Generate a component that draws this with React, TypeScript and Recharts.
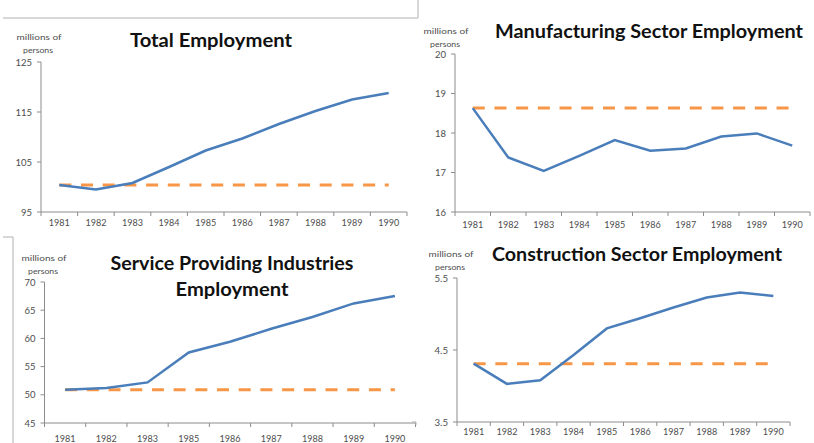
import React from "react";
import { LineChart, Line, XAxis, YAxis, ReferenceLine } from "recharts";

const years = ["1981", "1982", "1983", "1984", "1985", "1986", "1987", "1988", "1989", "1990"];
const serviceYears = ["1981", "1982", "1983", "1985", "1986", "1987", "1988", "1989", "1990"];

const totalEmployment = [100.4, 99.5, 100.8, 104.0, 107.3, 109.7, 112.6, 115.2, 117.5, 118.8];
const manufacturingEmployment = [18.63, 17.38, 17.04, 17.42, 17.82, 17.55, 17.61, 17.91, 17.99, 17.68];
const serviceEmployment = [50.9, 51.2, 52.2, 57.5, 59.4, 61.7, 63.8, 66.2, 67.5];
const constructionEmployment = [4.31, 4.03, 4.08, 4.43, 4.8, 4.94, 5.09, 5.23, 5.3, 5.25];

const totalTicks = [95, 105, 115, 125];
const manufacturingTicks = [16, 17, 18, 19, 20];
const serviceTicks = [45, 50, 55, 60, 65, 70];
const constructionTicks = [3.5, 4.5, 5.5];

const BLUE = "#4a7ebb";
const ORANGE = "#f79646";
const AXIS = "#8c8c8c";
const LABEL = "#4d4d4d";
const FONT = "Lato, 'Open Sans', sans-serif";

const toRows = (cats: string[], vals: number[]) => cats.map((year, i) => ({ year, value: vals[i] }));

const XTick = (props: any) => {
  const { x, y, payload, index, gap } = props;
  const half = payload?.offset || 18;
  const text = String(payload.value);
  return (
    <g>
      {index === 0 && <line x1={x - half} x2={x - half} y1={y} y2={y + 4} stroke={AXIS} />}
      <line x1={x + half} x2={x + half} y1={y} y2={y + 4} stroke={AXIS} />
      <text
        x={x}
        y={y + gap + 3.5}
        textAnchor="middle"
        fontSize={10}
        fill={LABEL}
        fontFamily={FONT}
        textLength={21}
        lengthAdjust="spacingAndGlyphs"
      >
        {text}
      </text>
    </g>
  );
};

const YTick = (props: any) => {
  const { x, y, payload } = props;
  const text = String(payload.value);
  const len = text.replace(".", "").length * 5.5 + (text.includes(".") ? 2.5 : 0);
  return (
    <text
      x={x}
      y={y + 3.5}
      textAnchor="end"
      fontSize={10}
      fill={LABEL}
      fontFamily={FONT}
      textLength={len}
      lengthAdjust="spacingAndGlyphs"
    >
      {text}
    </text>
  );
};

interface PanelProps {
  left: number;
  top: number;
  width: number;
  height: number;
  margin: { top: number; right: number; left: number; bottom: number };
  xHeight: number;
  gap: number;
  cats: string[];
  vals: number[];
  domain: [number, number];
  ticks: number[];
}

const Panel: React.FC<PanelProps> = ({ left, top, width, height, margin, xHeight, gap, cats, vals, domain, ticks }) => {
  const rows = toRows(cats, vals);
  const base = vals[0];
  return (
    <div style={{ position: "absolute", left, top, width, height }}>
      <LineChart width={width} height={height} data={rows} margin={margin}>
        <XAxis
          dataKey="year"
          scale="band"
          height={xHeight}
          tickSize={0}
          tickMargin={0}
          interval={0}
          stroke={AXIS}
          tick={<XTick gap={gap} />}
        />
        <YAxis
          type="number"
          domain={domain}
          ticks={ticks}
          width={30}
          tickSize={4}
          tickMargin={5}
          interval={0}
          stroke={AXIS}
          tick={<YTick />}
        />
        <ReferenceLine
          segment={[
            { x: cats[0], y: base },
            { x: cats[cats.length - 1], y: base },
          ]}
          stroke={ORANGE}
          strokeWidth={3}
          strokeDasharray="12 9.7"
        />
        <Line
          type="linear"
          dataKey="value"
          stroke={BLUE}
          strokeWidth={2.5}
          dot={false}
          isAnimationActive={false}
        />
      </LineChart>
    </div>
  );
};

const Title = ({ x, y, text, len, size = 19 }: { x: number; y: number; text: string; len: number; size?: number }) => (
  <text
    x={x}
    y={y}
    textAnchor="middle"
    fontSize={size}
    fontWeight={700}
    fill="#111"
    fontFamily={FONT}
    textLength={len}
    lengthAdjust="spacingAndGlyphs"
  >
    {text}
  </text>
);

const Units = ({ x, y }: { x: number; y: number }) => (
  <g fontSize={8} fill={LABEL} fontFamily={FONT} textAnchor="middle">
    <text x={x} y={y} textLength={45} lengthAdjust="spacingAndGlyphs">
      millions of
    </text>
    <text x={x - 1} y={y + 12.5} textLength={30} lengthAdjust="spacingAndGlyphs">
      persons
    </text>
  </g>
);

export default function App() {
  return (
    <div style={{ position: "absolute", left: 0, top: 0, width: 814, height: 443, background: "#fff", overflow: "hidden" }}>
      <Panel
        left={0}
        top={0}
        width={410}
        height={230}
        margin={{ top: 62, right: 3, left: 11, bottom: 0 }}
        xHeight={18}
        gap={10}
        cats={years}
        vals={totalEmployment}
        domain={[95, 125]}
        ticks={totalTicks}
      />
      <Panel
        left={410}
        top={0}
        width={404}
        height={230}
        margin={{ top: 54, right: 4, left: 15, bottom: 0 }}
        xHeight={18}
        gap={12}
        cats={years}
        vals={manufacturingEmployment}
        domain={[16, 20]}
        ticks={manufacturingTicks}
      />
      <Panel
        left={0}
        top={230}
        width={420}
        height={213}
        margin={{ top: 52, right: 4.5, left: 14.5, bottom: 0 }}
        xHeight={20}
        gap={15}
        cats={serviceYears}
        vals={serviceEmployment}
        domain={[45, 70]}
        ticks={serviceTicks}
      />
      <Panel
        left={410}
        top={230}
        width={404}
        height={213}
        margin={{ top: 48, right: 24, left: 17, bottom: 0 }}
        xHeight={21}
        gap={9.5}
        cats={years}
        vals={constructionEmployment}
        domain={[3.5, 5.5]}
        ticks={constructionTicks}
      />
      <svg width={814} height={443} style={{ position: "absolute", left: 0, top: 0, pointerEvents: "none" }}>
        <polyline points="3,18 418,18 418,0" fill="none" stroke="#b0b0b0" strokeWidth={1} />
        <polyline points="3,237 13,237 13,443" fill="none" stroke="#b0b0b0" strokeWidth={1} />
        <polyline points="412,422 416,422 416,425" fill="none" stroke="#b0b0b0" strokeWidth={1} />
        <Title x={211} y={47} text="Total Employment" len={162} />
        <Title x={649} y={38} text="Manufacturing Sector Employment" len={308} />
        <Title x={232} y={270} text="Service Providing Industries" len={243} />
        <Title x={232} y={296} text="Employment" len={113} />
        <Title x={637} y={261} text="Construction Sector Employment" len={290} />
        <Units x={39} y={40} />
        <Units x={446} y={34} />
        <Units x={44} y={261} />
        <Units x={451} y={257} />
      </svg>
    </div>
  );
}
